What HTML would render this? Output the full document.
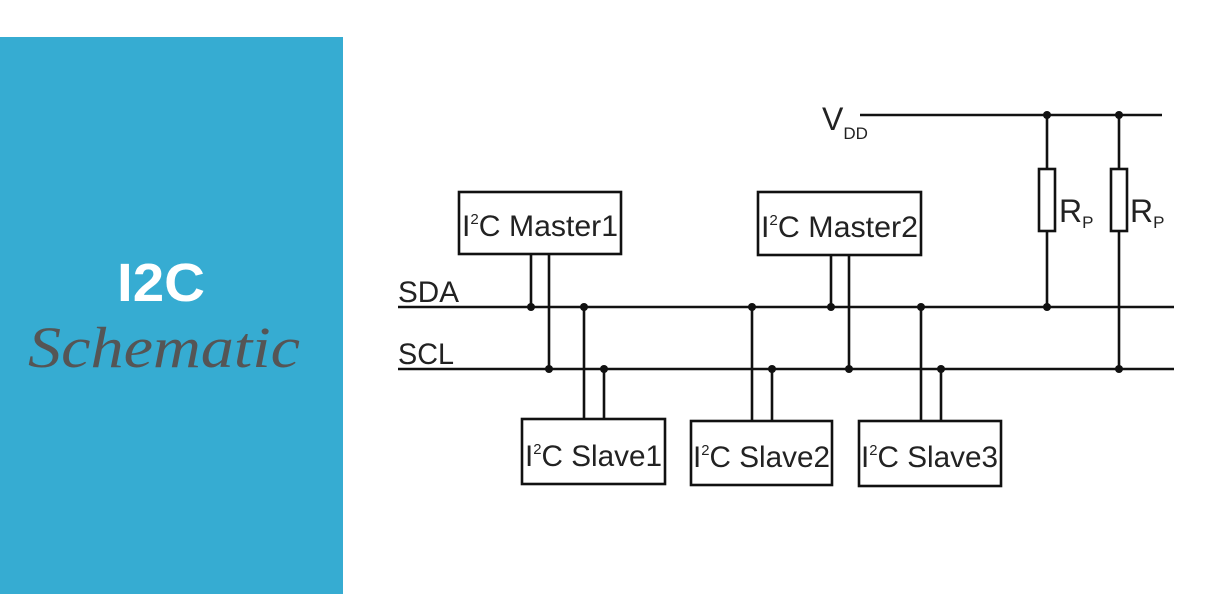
<!DOCTYPE html>
<html><head><meta charset="utf-8"><style>
html,body{margin:0;padding:0;background:#fff;width:1212px;height:616px;overflow:hidden}
</style></head><body>
<svg width="1212" height="616" xmlns="http://www.w3.org/2000/svg" font-family="Liberation Sans, sans-serif">
<rect x="0" y="0" width="1212" height="616" fill="#fff"/>
<rect x="0" y="37" width="343" height="557" fill="#36acd2"/>
<text x="117" y="301" textLength="88" lengthAdjust="spacingAndGlyphs" font-size="54" font-weight="bold" fill="#fff">I2C</text>
<text x="28" y="367" textLength="272" lengthAdjust="spacingAndGlyphs" font-family="Liberation Serif, serif" font-style="italic" font-size="58" fill="#555">Schematic</text>
<g stroke="#111" stroke-width="2.6" fill="none">
<line x1="860" y1="115" x2="1162" y2="115"/>
<line x1="398" y1="307" x2="1174" y2="307"/>
<line x1="398" y1="369" x2="1174" y2="369"/>
<line x1="1047" y1="115" x2="1047" y2="169"/>
<line x1="1047" y1="231" x2="1047" y2="307"/>
<line x1="1119" y1="115" x2="1119" y2="169"/>
<line x1="1119" y1="231" x2="1119" y2="369"/>
<rect x="1039" y="169" width="16" height="62" fill="#fff"/>
<rect x="1111" y="169" width="16" height="62" fill="#fff"/>
<rect x="459" y="192" width="162" height="62" fill="#fff"/>
<rect x="758" y="192" width="163" height="63" fill="#fff"/>
<rect x="522" y="419" width="143" height="65" fill="#fff"/>
<rect x="691" y="421" width="141" height="64" fill="#fff"/>
<rect x="859" y="421" width="142" height="65" fill="#fff"/>
<line x1="531" y1="254" x2="531" y2="307"/>
<line x1="549" y1="254" x2="549" y2="369"/>
<line x1="831" y1="255" x2="831" y2="307"/>
<line x1="849" y1="255" x2="849" y2="369"/>
<line x1="584" y1="307" x2="584" y2="419"/>
<line x1="604" y1="369" x2="604" y2="419"/>
<line x1="752" y1="307" x2="752" y2="421"/>
<line x1="772" y1="369" x2="772" y2="421"/>
<line x1="921" y1="307" x2="921" y2="421"/>
<line x1="941" y1="369" x2="941" y2="421"/>
</g>
<g fill="#111">
<circle cx="1047" cy="115" r="4"/><circle cx="1119" cy="115" r="4"/>
<circle cx="531" cy="307" r="4"/><circle cx="584" cy="307" r="4"/><circle cx="752" cy="307" r="4"/>
<circle cx="831" cy="307" r="4"/><circle cx="921" cy="307" r="4"/><circle cx="1047" cy="307" r="4"/>
<circle cx="549" cy="369" r="4"/><circle cx="604" cy="369" r="4"/><circle cx="772" cy="369" r="4"/>
<circle cx="849" cy="369" r="4"/><circle cx="941" cy="369" r="4"/><circle cx="1119" cy="369" r="4"/>
</g>
<g fill="#222" font-size="30">
<text x="398" y="302" textLength="61" lengthAdjust="spacingAndGlyphs">SDA</text>
<text x="398" y="364" textLength="56" lengthAdjust="spacingAndGlyphs">SCL</text>
<text x="822" y="130" font-size="32">V<tspan font-size="17" dy="9">DD</tspan></text>
<text x="1059" y="222" font-size="32">R<tspan font-size="17" dy="6">P</tspan></text>
<text x="1130" y="222" font-size="32">R<tspan font-size="17" dy="6">P</tspan></text>
<text x="462" y="236" textLength="156" lengthAdjust="spacingAndGlyphs">I<tspan font-size="15" dy="-12">2</tspan><tspan dy="12">C Master1</tspan></text>
<text x="761" y="237" textLength="157" lengthAdjust="spacingAndGlyphs">I<tspan font-size="15" dy="-12">2</tspan><tspan dy="12">C Master2</tspan></text>
<text x="525" y="466" textLength="137" lengthAdjust="spacingAndGlyphs">I<tspan font-size="15" dy="-12">2</tspan><tspan dy="12">C Slave1</tspan></text>
<text x="693" y="467" textLength="137" lengthAdjust="spacingAndGlyphs">I<tspan font-size="15" dy="-12">2</tspan><tspan dy="12">C Slave2</tspan></text>
<text x="861" y="467" textLength="137" lengthAdjust="spacingAndGlyphs">I<tspan font-size="15" dy="-12">2</tspan><tspan dy="12">C Slave3</tspan></text>
</g>
</svg>
</body></html>
